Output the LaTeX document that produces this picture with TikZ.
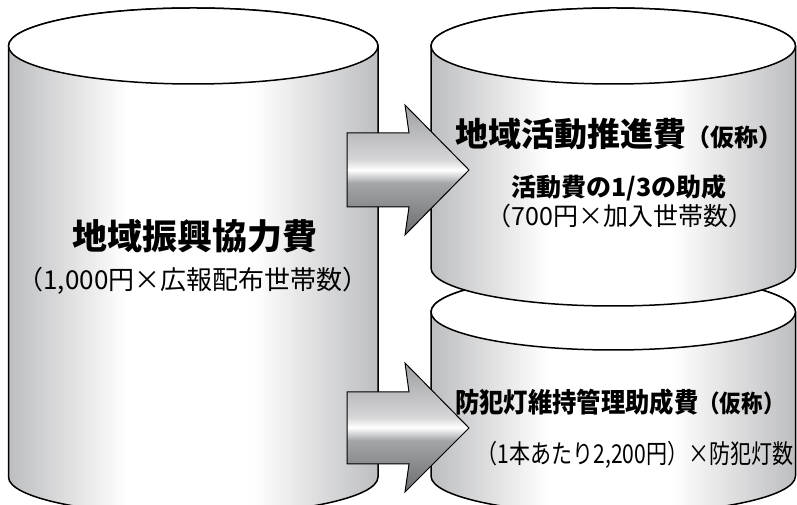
\documentclass[tikz,border=0pt]{standalone}
\usepackage{fontspec}
\newfontfamily\jp{Noto Sans CJK JP}
\definecolor{cg}{HTML}{BDBEC0}
\definecolor{aone}{HTML}{6C6D70}
\definecolor{atwo}{HTML}{A4A5A8}
\definecolor{athree}{HTML}{D6D6D8}
\definecolor{afour}{HTML}{9D9EA1}
\pgfdeclarehorizontalshading{cylshade}{100bp}{color(0bp)=(cg); color(25bp)=(cg); color(41bp)=(white); color(58bp)=(white); color(75bp)=(cg); color(100bp)=(cg)}
\pgfdeclareverticalshading{arrshade}{100bp}{color(0bp)=(aone); color(25bp)=(aone); color(45bp)=(atwo); color(50bp)=(white); color(54bp)=(athree); color(75bp)=(afour); color(100bp)=(afour)}
\begin{document}
\begin{tikzpicture}[x=1pt,y=1pt,line join=round,
  cyl/.style={draw=black,line width=1.5pt,shade,shading=cylshade},
  lid/.style={draw=black,line width=1.5pt,fill=white},
  arr/.style={draw=black,line width=1pt,shade,shading=arrshade,line join=miter},
  bigtitle/.style={anchor=base,inner sep=0pt,font=\jp\bfseries\fontsize{35}{40}\selectfont},
  midtitle/.style={anchor=base,inner sep=0pt,font=\jp\bfseries\fontsize{33}{38}\selectfont},
  smalltitle/.style={anchor=base,inner sep=0pt,font=\jp\bfseries\fontsize{27}{32}\selectfont},
  subline/.style={anchor=base,inner sep=0pt,font=\jp\fontsize{25}{30}\selectfont},
  boldline/.style={anchor=base,inner sep=0pt,font=\jp\bfseries\fontsize{25}{30}\selectfont}]
\useasboundingbox (0,0) rectangle (797,505);
\clip (0,0) rectangle (797,505);
% left cylinder
\path[cyl] (8.5,459) -- (8.5,28) arc[start angle=180,end angle=360,x radius=184.75,y radius=38] -- (378,459) arc[start angle=0,end angle=180,x radius=184.75,y radius=38] -- cycle;
\path[lid] (193.25,459) ellipse[x radius=184.75,y radius=38];
% lower right cylinder
\path[cyl] (431,193) -- (431,29) arc[start angle=180,end angle=360,x radius=182.25,y radius=38] -- (795.5,193) arc[start angle=0,end angle=180,x radius=182.25,y radius=38] -- cycle;
\path[lid] (613.25,193) ellipse[x radius=182.25,y radius=38];
% upper right cylinder
\path[cyl] (431,459) -- (431,237) arc[start angle=180,end angle=360,x radius=182.25,y radius=38] -- (795.5,459) arc[start angle=0,end angle=180,x radius=182.25,y radius=38] -- cycle;
\path[lid] (613.25,459) ellipse[x radius=182.25,y radius=38];
% arrows
\path[arr] (347,372) -- (409,372) -- (405,400) -- (469,335) -- (405,270) -- (409,298) -- (347,298) -- cycle;
\path[arr] (347,113) -- (409,113) -- (405,142) -- (469,77) -- (405,13) -- (409,41) -- (347,41) -- cycle;
% texts
\node[bigtitle] (lt) at (195,255) {地域振興協力費};
\node[subline] (ls) at (193,215) {\fontsize{26}{30}\selectfont（1,000円×広報配布世帯数）};
\node[midtitle] (rt) at (619,358) {地域活動推進費{\fontsize{24}{28}\selectfont（仮称）}};
\node[boldline] (rs1) at (619,308) {活動費の1/3の助成};
\node[subline] (rs2) at (620,279) {（700円×加入世帯数）};
\node[smalltitle] (bt) at (620,92) {\scalebox{0.9}[1]{防犯灯維持管理助成費{\fontsize{24}{28}\selectfont（仮称）}}};
\node[subline] (bs) at (635,41) {\fontsize{26}{30}\selectfont\scalebox{0.81}[1]{（1本あたり2,200円）×防犯灯数}};
\end{tikzpicture}
\end{document}
